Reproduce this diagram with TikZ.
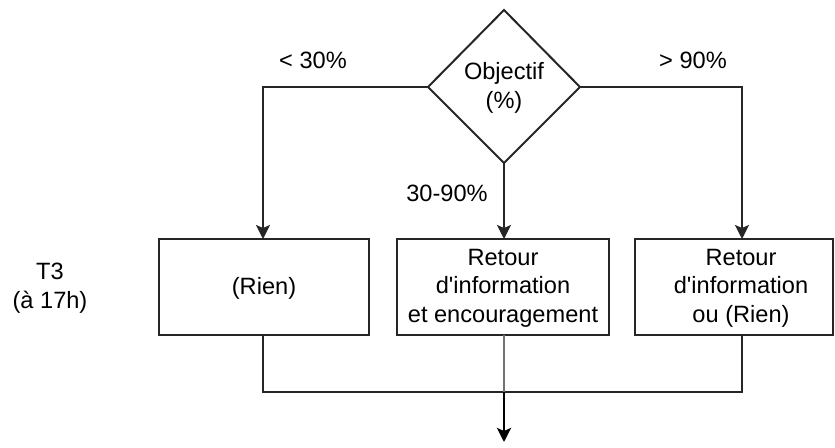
\documentclass[tikz,border=0pt]{standalone}
\usepackage{fontspec}
\setmainfont{Liberation Sans}
\usetikzlibrary{shapes.geometric,arrows.meta}
\newcommand{\apos}{\XeTeXglyph\XeTeXcharglyph"27\relax}
\begin{document}
\begin{tikzpicture}[x=1pt,y=-1pt,
  txt/.style={font=\fontsize{23.6}{28.5}\selectfont, align=center, inner sep=0pt},
  line/.style={line width=2pt, draw=black!85},
  arr/.style={line, -{Stealth[length=14pt,width=14pt,inset=3pt]}},
  boxst/.style={draw=black!85, line width=2pt, fill=white}]
\useasboundingbox (0,0) rectangle (835,447);
% decision diamond
\draw[boxst] (504,10) -- (580,87) -- (504,163) -- (428,87) -- cycle;
\node[txt] (dec) at (504,88) {Objectif\\(\%)};
\coordinate (dT) at (504,10);
\coordinate (dL) at (428,87);
\coordinate (dR) at (580,87);
\coordinate (dB) at (504,163);
% boxes
\draw[boxst] (159,239) rectangle (369,335);
\node[txt] (b1) at (264,288) {(Rien)};
\draw[boxst] (397,239) rectangle (609,335);
\node[txt] (b2) at (503,288) {Retour\\d\apos information\\et encouragement};
\draw[boxst] (635,239) rectangle (833,335);
\node[txt] (b3) at (741,288) {Retour\\d\apos information\\ou (Rien)};
\coordinate (b1t) at (263,239); \coordinate (b1b) at (263,335);
\coordinate (b2t) at (504,239); \coordinate (b2b) at (504,335);
\coordinate (b3t) at (742,239); \coordinate (b3b) at (742,335);
% side label
\node[txt] (t3) at (50,288) {T3\\(à 17h)};
% edge labels
\node[txt] (l1) at (313,60) {< 30\%};
\node[txt] (l2) at (693,60) {> 90\%};
\node[txt] (l3) at (447,193) {30-90\%};
% connectors
\draw[arr] (dL) -| (b1t);
\draw[arr] (dR) -| (b3t);
\draw[arr] (dB) -- (b2t);
\coordinate (join) at (504,392);
\coordinate (out) at (504,442);
\draw[line] (b1b) |- (join) -| (b3b);
\draw[line, draw=black!55] (b2b) -- (join);
\draw[line width=2.8pt, -{Stealth[length=14pt,width=14pt,inset=3pt]}] (join) -- (out);
\end{tikzpicture}
\end{document}
